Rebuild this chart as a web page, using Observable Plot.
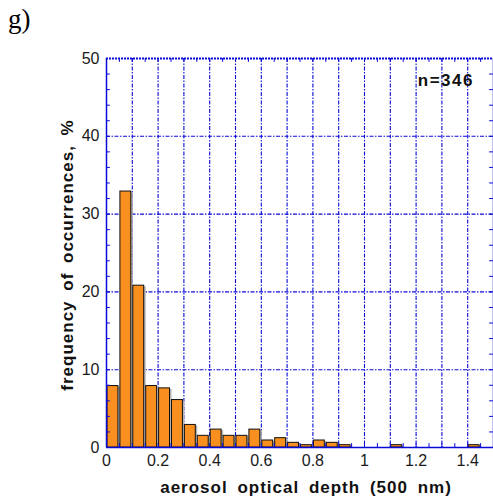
<!DOCTYPE html>
<html>
<head>
<meta charset="utf-8">
<script src="https://cdn.jsdelivr.net/npm/d3@7"></script>
<script src="https://cdn.jsdelivr.net/npm/@observablehq/plot@0.6"></script>
<style>
  html, body { margin: 0; padding: 0; background: #fff; }
  #wrap { position: relative; width: 493px; height: 497px; overflow: hidden; }
  #wrap svg { display: block; }
  .lbl { position: absolute; white-space: nowrap; line-height: 1; color: #111;
         font-family: "Liberation Sans", Arial, sans-serif; font-weight: bold; font-size: 17px;
         letter-spacing: 1px; word-spacing: 4px; }
  #panel { position: absolute; left: 8px; top: 6px; font-family: "Liberation Serif", "Times New Roman", serif; font-size: 27px; line-height: 1; color: #000; }
  #xlab { left: 306px; top: 479px; transform: translateX(-50%); }
  #ylab { left: 67px; top: 255px; transform: translate(-50%, -50%) rotate(-90deg); }
  #nlab { right: 19px; top: 72px; letter-spacing: 1.5px; }
</style>
</head>
<body>
<div id="wrap">
  <div id="panel">g)</div>
  <div id="xlab" class="lbl"></div>
  <div id="ylab" class="lbl"></div>
  <div id="nlab" class="lbl"></div>
</div>
<script>
// Histogram bins (start of each 0.05-wide AOD bin) and frequency, %
const binStart = [0, 0.05, 0.10, 0.15, 0.20, 0.25, 0.30, 0.35, 0.40, 0.45, 0.50, 0.55, 0.60, 0.65, 0.70, 0.75, 0.80, 0.85, 0.90, 1.10, 1.40];
const freq     = [7.9, 32.9, 20.8, 7.9, 7.6, 6.1, 2.9, 1.5, 2.3, 1.5, 1.5, 2.3, 0.9, 1.2, 0.6, 0.3, 0.9, 0.6, 0.3, 0.3, 0.3];
const binWidth = 0.05;

const xTicks = [0, 0.2, 0.4, 0.6, 0.8, 1.0, 1.2, 1.4];
const xTickLabels = ["0", "0.2", "0.4", "0.6", "0.8", "1", "1.2", "1.4"];
const yTicks = [0, 10, 20, 30, 40, 50];
const yTickLabels = ["0", "10", "20", "30", "40", "50"];
const xGrid = [0.1, 0.2, 0.3, 0.4, 0.5, 0.6, 0.7, 0.8, 0.9, 1.0, 1.1, 1.2, 1.3, 1.4];
const yGrid = [10, 20, 30, 40];
const xMinor = d3.range(1, 30).map(i => i * 0.05);
const yMinor = d3.range(1, 25).map(i => i * 2);
const nLabel = "n=346";
const xLabel = "aerosol optical depth (500 nm)";
const yLabel = "frequency of occurrences, %";

document.getElementById("xlab").textContent = xLabel;
document.getElementById("ylab").textContent = yLabel;
document.getElementById("nlab").textContent = nLabel;

const bars = binStart.map((s, i) => ({x0: s, x1: s + binWidth, v: freq[i]}));

const blue = "#0a0ad8";
const dash = "4,1.5,1.5,1.5";

const chart = Plot.plot({
  width: 493,
  height: 497,
  marginLeft: 106,
  marginRight: 0,
  marginTop: 58,
  marginBottom: 50,
  style: {fontFamily: "'Liberation Sans', Arial, sans-serif", color: "#1a1a1a", background: "transparent"},
  x: {domain: [0, 1.5]},
  y: {domain: [0, 50]},
  marks: [
    // grid
    Plot.ruleX(xGrid, {stroke: blue, strokeWidth: 1.1, strokeDasharray: dash}),
    Plot.ruleY(yGrid, {stroke: blue, strokeWidth: 1.1, strokeDasharray: dash}),
    // bar shadows
    Plot.rect(bars, {x1: "x0", x2: "x1", y1: 0, y2: "v", fill: "#b4b4b4", insetLeft: 1, insetRight: 1, dx: 2, dy: 1}),
    // bars
    Plot.rect(bars, {x1: "x0", x2: "x1", y1: 0, y2: "v", fill: "#f98f1e", stroke: "#111", strokeWidth: 1, insetLeft: 1, insetRight: 1}),
    // minor ticks (inward)
    Plot.ruleX(xMinor, {y1: 0, y2: 0.5, stroke: blue, strokeWidth: 1}),
    Plot.ruleX(xMinor, {y1: 50, y2: 49.5, stroke: blue, strokeWidth: 1}),
    Plot.ruleY(yMinor, {x1: 0, x2: 0.015, stroke: blue, strokeWidth: 1}),
    Plot.ruleY(yMinor, {x1: 1.5, x2: 1.485, stroke: blue, strokeWidth: 1}),
    // frame
    Plot.ruleY([50], {stroke: blue, strokeWidth: 2, strokeDasharray: "2,1"}),
    Plot.ruleY([0], {stroke: blue, strokeWidth: 1.5}),
    Plot.ruleX([0], {stroke: blue, strokeWidth: 1.5}),
    Plot.ruleX([1.5], {stroke: blue, strokeWidth: 1.5}),
    // axes
    Plot.axisX({ticks: xTicks, tickFormat: (d, i) => xTickLabels[i], tickSize: 0, tickPadding: 7, fontSize: 16, label: null}),
    Plot.axisY({ticks: yTicks, tickFormat: (d, i) => yTickLabels[i], tickSize: 0, tickPadding: 7, fontSize: 16, label: null})
  ]
});
document.getElementById("wrap").appendChild(chart);
</script>
</body>
</html>
